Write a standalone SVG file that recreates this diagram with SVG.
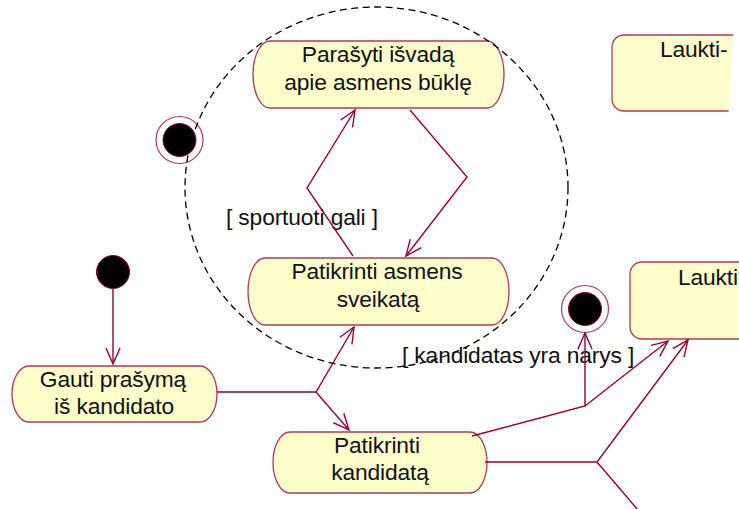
<svg xmlns="http://www.w3.org/2000/svg" width="739" height="509" viewBox="0 0 739 509">
  <style>
    .act { fill: #ffffcc; stroke: #b3395c; stroke-width: 1.3; }
    .lbl { font-family: "Liberation Sans", Arial, sans-serif; font-size: 22.8px; letter-spacing: -0.15px; fill: #111; }
    .mid { text-anchor: middle; }
    .flow { fill: none; stroke: #990033; stroke-width: 1.4; stroke-linejoin: miter; }
    .final-ring { fill: #ffffff; stroke: #b3395c; stroke-width: 1.2; }
    .dot { fill: #000; stroke: #990033; stroke-width: 1; }
    .region { fill: none; stroke: #000; stroke-width: 1.3; stroke-dasharray: 7 4.5; }
  </style>
  <defs>
    <marker id="open-arrow" markerUnits="userSpaceOnUse" orient="auto" refX="0" refY="0" markerWidth="20" markerHeight="20" overflow="visible">
      <path d="M-16,-7 L0,0 L-16,7" fill="none" stroke="#990033" stroke-width="1.4"/>
    </marker>
    <clipPath id="cut-right">
      <polygon points="600,20 734,20 728,120 600,120"/>
    </clipPath>
  </defs>

  <rect width="739" height="509" fill="#ffffff"/>

  <!-- activities -->
  <g id="parasyti-isvada">
    <rect class="act" x="253" y="41" width="251" height="67" rx="17" ry="33.5"/>
    <text class="lbl mid" x="378" y="62">Parašyti išvadą</text>
    <text class="lbl mid" x="378" y="90">apie asmens būklę</text>
  </g>

  <g id="patikrinti-sveikata">
    <rect class="act" x="248" y="258" width="261" height="67" rx="17" ry="33.5"/>
    <text class="lbl mid" x="377" y="279">Patikrinti asmens</text>
    <text class="lbl mid" x="378" y="307">sveikatą</text>
  </g>

  <g id="gauti-prasyma">
    <rect class="act" x="12" y="366" width="205" height="56" rx="17" ry="28"/>
    <text class="lbl mid" x="113" y="387">Gauti prašymą</text>
    <text class="lbl mid" x="114" y="414">iš kandidato</text>
  </g>

  <g id="patikrinti-kandidata">
    <rect class="act" x="273" y="432" width="214" height="61" rx="17" ry="30.5"/>
    <text class="lbl mid" x="377" y="453">Patikrinti</text>
    <text class="lbl mid" x="380" y="480">kandidatą</text>
  </g>

  <g id="laukti-virsus" clip-path="url(#cut-right)">
    <rect class="act" x="612" y="35" width="200" height="76" rx="12" ry="12"/>
    <text class="lbl" x="660" y="57">Laukti-</text>
  </g>

  <g id="laukti-apacia">
    <rect class="act" x="630" y="262" width="200" height="77" rx="12" ry="12"/>
    <text class="lbl" x="678" y="285">Laukti</text>
  </g>

  <!-- start and end states -->
  <g id="pradzia">
    <circle class="dot" cx="113" cy="272" r="16.5"/>
  </g>

  <g id="pabaiga-kaire">
    <circle class="final-ring" cx="179.5" cy="140" r="23.5"/>
    <circle class="dot" cx="179.5" cy="140" r="16.5"/>
  </g>

  <g id="pabaiga-vidurys">
    <circle class="final-ring" cx="585" cy="309" r="23.5"/>
    <circle class="dot" cx="585" cy="309" r="16.5"/>
  </g>

  <!-- guard labels -->
  <text class="lbl" x="226" y="225">[ sportuoti gali ]</text>
  <text class="lbl" x="402" y="363">[ kandidatas yra narys ]</text>

  <!-- transitions -->
  <g id="connectors">
    <path class="flow" d="M113,289 L113,364" marker-end="url(#open-arrow)"/>
    <path class="flow" d="M217,392 L316,392 L354,327" marker-end="url(#open-arrow)"/>
    <path class="flow" d="M316,392 L349,430" marker-end="url(#open-arrow)"/>
    <path class="flow" d="M353,256 L307,188 L355,110" marker-end="url(#open-arrow)"/>
    <path class="flow" d="M410,110 L467,177 L406,256" marker-end="url(#open-arrow)"/>
    <path class="flow" d="M472,436 L585,406 L585,333" marker-end="url(#open-arrow)"/>
    <path class="flow" d="M585,406 L668,341" marker-end="url(#open-arrow)"/>
    <path class="flow" d="M485,462 L597,462 L688,340" marker-end="url(#open-arrow)"/>
    <path class="flow" d="M597,462 L638,510"/>
  </g>

  <!-- dashed region around the health-check activities -->
  <ellipse class="region" cx="376.5" cy="187.5" rx="191.5" ry="180.5"/>
</svg>
